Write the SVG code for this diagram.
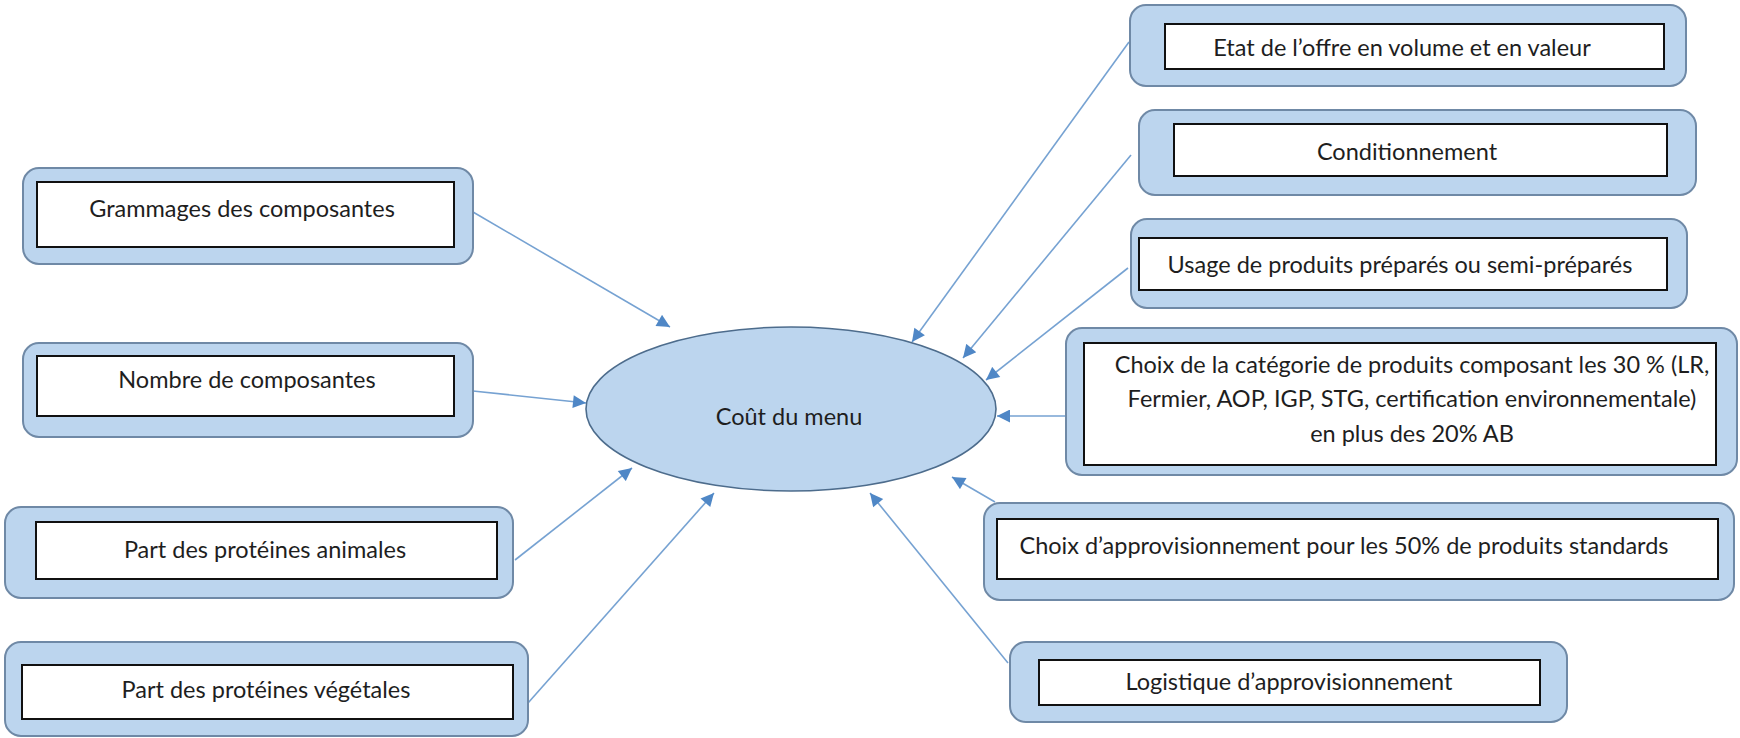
<svg xmlns="http://www.w3.org/2000/svg" width="1740" height="738" viewBox="0 0 1740 738">
<style>
.outer{fill:#bcd5ee;stroke:#6f89a6;stroke-width:2}
.inner{fill:#ffffff;stroke:#111111;stroke-width:2}
.lbl{font-family:Lato,"Open Sans","Liberation Sans",sans-serif;font-size:23.5px;fill:#1e1e1e;text-anchor:middle;dominant-baseline:central}
.conn{stroke:#76a2d2;stroke-width:1.6;fill:none;marker-end:url(#ah)}
</style>
<defs>
<marker id="ah" viewBox="0 0 10 10" refX="10" refY="5" markerWidth="15" markerHeight="13" markerUnits="userSpaceOnUse" orient="auto">
<path d="M0,0 L10,5 L0,10 z" fill="#4f87c6"/>
</marker>
</defs>
<rect width="1740" height="738" fill="#ffffff"/>
<g id="connectors">
<line class="conn" x1="473" y1="212" x2="670" y2="327"/>
<line class="conn" x1="473" y1="391" x2="586" y2="403"/>
<line class="conn" x1="515" y1="560" x2="632" y2="468"/>
<line class="conn" x1="528" y1="703" x2="714" y2="493"/>
<line class="conn" x1="1129" y1="42" x2="912" y2="342"/>
<line class="conn" x1="1131" y1="155" x2="963" y2="358"/>
<line class="conn" x1="1128" y1="268" x2="986" y2="380"/>
<line class="conn" x1="1065" y1="416" x2="997" y2="416"/>
<line class="conn" x1="995" y1="502" x2="952" y2="477"/>
<line class="conn" x1="1008" y1="663" x2="870" y2="493"/>
</g>
<g id="cout">
<ellipse cx="791" cy="409" rx="205" ry="82" fill="#bcd5ee" stroke="#4d6c8c" stroke-width="1.6"/>
<text class="lbl" x="789" y="416">Coût du menu</text>
</g>
<g id="grammages">
<rect class="outer" x="23" y="168" width="450" height="96" rx="16"/>
<rect class="inner" x="37" y="182" width="417" height="65"/>
<text class="lbl" x="242" y="208">Grammages des composantes</text>
</g>
<g id="nombre">
<rect class="outer" x="23" y="343" width="450" height="94" rx="16"/>
<rect class="inner" x="37" y="356" width="417" height="60"/>
<text class="lbl" x="247" y="379">Nombre de composantes</text>
</g>
<g id="animales">
<rect class="outer" x="5" y="507" width="508" height="91" rx="16"/>
<rect class="inner" x="36" y="522" width="461" height="57"/>
<text class="lbl" x="265" y="549">Part des protéines animales</text>
</g>
<g id="vegetales">
<rect class="outer" x="5" y="642" width="523" height="94" rx="16"/>
<rect class="inner" x="22" y="665" width="491" height="54"/>
<text class="lbl" x="266" y="689">Part des protéines végétales</text>
</g>
<g id="etat">
<rect class="outer" x="1130" y="5" width="556" height="81" rx="16"/>
<rect class="inner" x="1165" y="24" width="499" height="45"/>
<text class="lbl" x="1402" y="47">Etat de l’offre en volume et en valeur</text>
</g>
<g id="conditionnement">
<rect class="outer" x="1139" y="110" width="557" height="85" rx="16"/>
<rect class="inner" x="1174" y="124" width="493" height="52"/>
<text class="lbl" x="1407" y="151">Conditionnement</text>
</g>
<g id="usage">
<rect class="outer" x="1131" y="219" width="556" height="89" rx="16"/>
<rect class="inner" x="1139" y="238" width="528" height="52"/>
<text class="lbl" x="1400" y="264">Usage de produits préparés ou semi-préparés</text>
</g>
<g id="choix-categorie">
<rect class="outer" x="1066" y="328" width="671" height="147" rx="16"/>
<rect class="inner" x="1084" y="343" width="632" height="122"/>
<text class="lbl" x="1412" y="364">Choix de la catégorie de produits composant les 30 % (LR,</text>
<text class="lbl" x="1412" y="398">Fermier, AOP, IGP, STG, certification environnementale)</text>
<text class="lbl" x="1412" y="433">en plus des 20% AB</text>
</g>
<g id="choix-appro">
<rect class="outer" x="984" y="503" width="750" height="97" rx="16"/>
<rect class="inner" x="997" y="519" width="721" height="60"/>
<text class="lbl" x="1344" y="545">Choix d’approvisionnement pour les 50% de produits standards</text>
</g>
<g id="logistique">
<rect class="outer" x="1010" y="642" width="557" height="80" rx="16"/>
<rect class="inner" x="1039" y="660" width="501" height="45"/>
<text class="lbl" x="1289" y="681">Logistique d’approvisionnement</text>
</g>
</svg>
